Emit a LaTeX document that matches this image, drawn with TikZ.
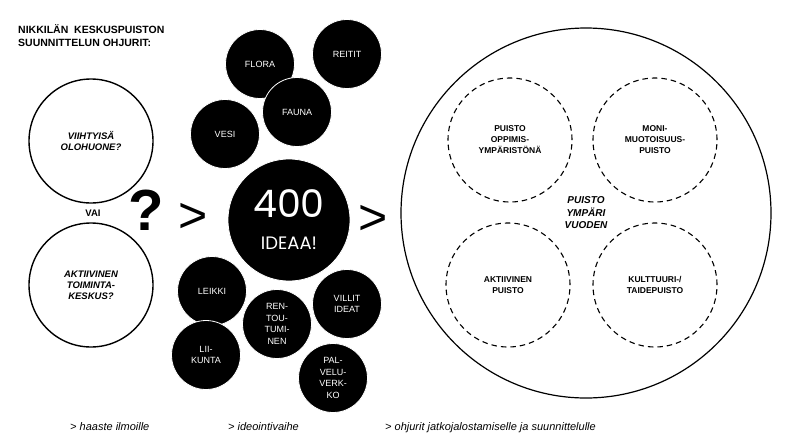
\documentclass[tikz,border=0pt]{standalone}
\usepackage{fontspec}
\setmainfont{Liberation Sans}
\newfontfamily\numfont{Poppins}
\tikzset{
  idea/.style   = {circle, fill=black, draw=white, line width=0.8pt,
                   text=white, minimum size=69pt, inner sep=0pt,
                   align=center, font=\fontsize{9}{11.5}\selectfont},
  choice/.style = {circle, draw, line width=1.4pt, minimum size=124pt,
                   inner sep=0pt, align=center,
                   font=\fontsize{9.5}{11}\selectfont\bfseries\itshape},
  theme/.style  = {circle, draw, line width=1.1pt,
                   dash pattern=on 5.5pt off 4pt, minimum size=124pt,
                   inner sep=0pt, align=center,
                   font=\fontsize{8.5}{11}\selectfont\bfseries},
  bigsign/.style = {inner sep=0pt, font=\fontsize{50}{50}\selectfont},
  note/.style   = {anchor=base west, inner sep=0pt,
                   font=\fontsize{11}{12}\selectfont\itshape}
}
\begin{document}
\begin{tikzpicture}[x=1pt,y=-1pt]
    \useasboundingbox (0,0) rectangle (790,445);
    \node[anchor=north west,inner sep=0pt,align=left,
          font=\fontsize{10.5}{13}\selectfont\bfseries] (title) at (18,24)
          {NIKKILÄN\ \ KESKUSPUISTON\\SUUNNITTELUN OHJURIT:};
    % challenge
    \node[choice] (olohuone) at (91,141) {VIIHTYISÄ\\OLOHUONE?};
    \node[choice] (keskus) at (91,285) {AKTIIVINEN\\TOIMINTA-\\KESKUS?};
    \node[inner sep=0pt,font=\fontsize{9.5}{11}\selectfont\bfseries] (vai) at (93,213) {VAI};
    \node[bigsign,font=\fontsize{58}{58}\selectfont\bfseries] (kysymys) at (146,210) {?};
    \node[bigsign] (nuoli1) at (193,218) {>};
    % ideas
    \node[idea] (flora) at (260,64) {FLORA};
    \node[idea] (reitit) at (347,54) {REITIT};
    \node[idea] (fauna) at (297,112) {FAUNA};
    \node[idea] (vesi) at (225,134) {VESI};
    \node[idea,minimum size=122pt,font=\numfont\fontsize{18}{32}\selectfont] (ideat) at (289,220)
          {{\fontsize{38}{32}\selectfont 400}\\IDEAA!};
    \node[idea] (leikki) at (212,291) {LEIKKI};
    \node[idea] (liikunta) at (206,355) {LII-\\KUNTA};
    \node[idea] (rentoutuminen) at (277,324) {REN-\\TOU-\\TUMI-\\NEN};
    \node[idea] (villit) at (347,304) {VILLIT\\IDEAT};
    \node[idea] (palvelu) at (333,378) {PAL-\\VELU-\\VERK-\\KO};
    \node[bigsign] (nuoli2) at (373,220) {>};
    % guidelines
    \node[circle,draw,line width=1.2pt,minimum size=370pt,inner sep=0pt,align=center,
          font=\fontsize{10}{12.5}\selectfont\bfseries\itshape] (vuosi) at (586,213)
          {PUISTO\\YMPÄRI\\VUODEN};
    \node[theme] (oppiminen) at (510,140) {PUISTO\\OPPIMIS-\\YMPÄRISTÖNÄ};
    \node[theme] (monimuoto) at (655,140) {MONI-\\MUOTOISUUS-\\PUISTO};
    \node[theme] (aktiivinen) at (508,285) {AKTIIVINEN\\PUISTO};
    \node[theme] (kulttuuri) at (655,285) {KULTTUURI-/\\TAIDEPUISTO};
    % phases
    \node[note] (haaste) at (70,430) {> haaste ilmoille};
    \node[note] (ideointi) at (228,430) {> ideointivaihe};
    \node[note] (ohjurit) at (385,430) {> ohjurit jatkojalostamiselle ja suunnittelulle};
\end{tikzpicture}
\end{document}
